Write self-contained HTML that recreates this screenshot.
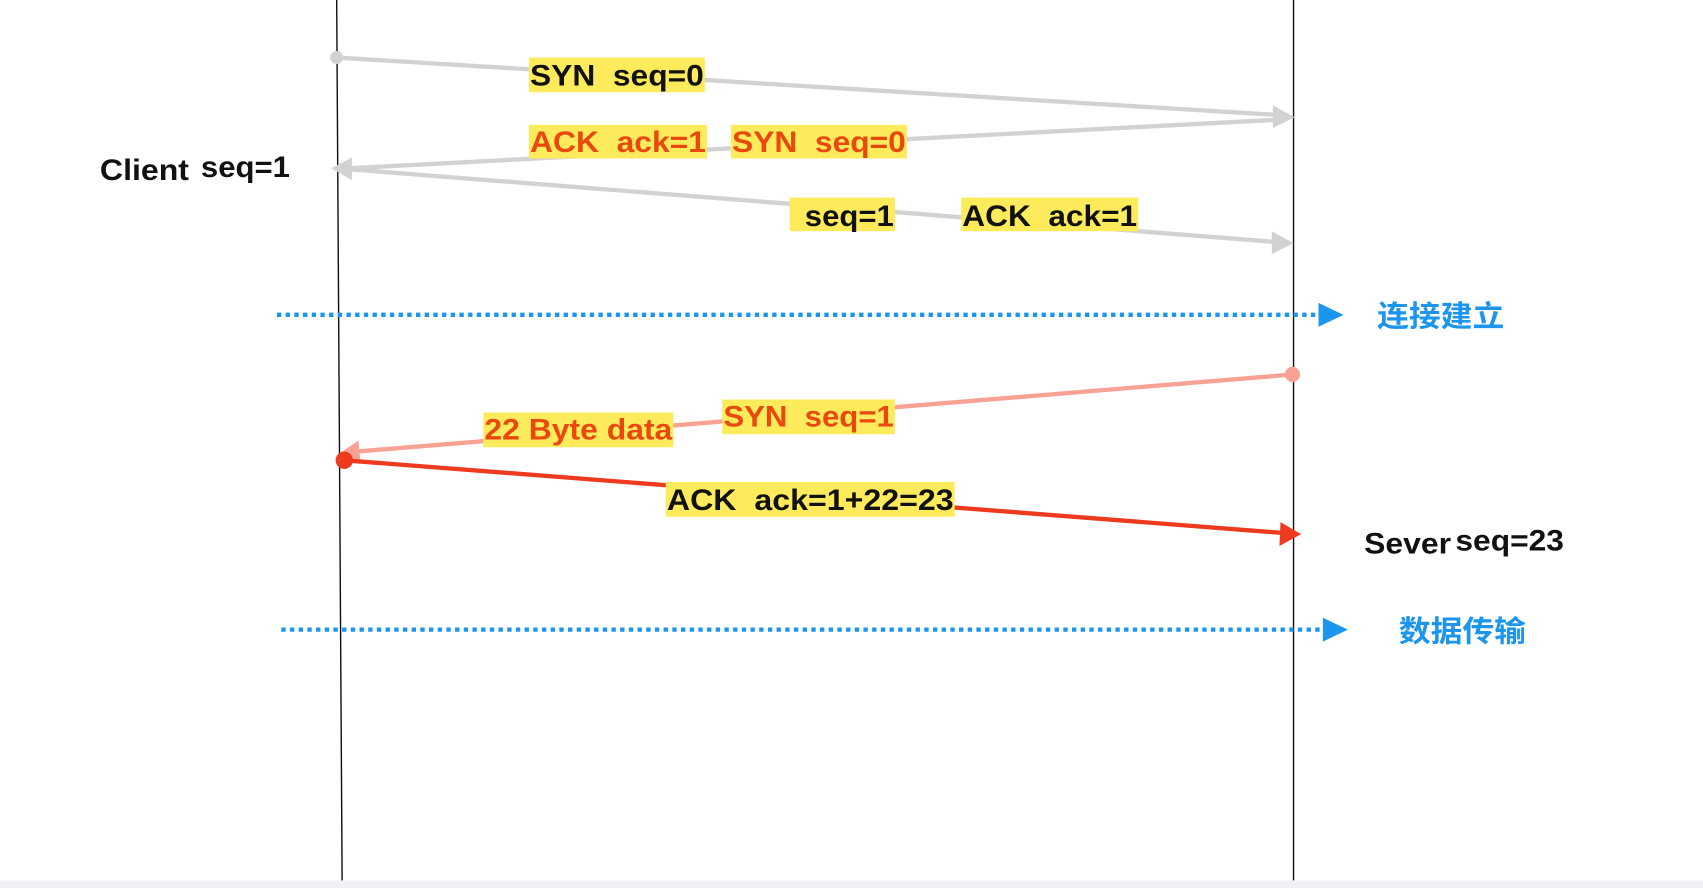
<!DOCTYPE html>
<html><head><meta charset="utf-8"><style>
html,body{margin:0;padding:0;background:#fff;width:1703px;height:888px;overflow:hidden}
svg{display:block}
text{font-family:"Liberation Sans","Noto Sans CJK SC",sans-serif;font-weight:bold;font-size:27px}
</style></head><body>
<svg width="1703" height="888" viewBox="0 0 1568 818" preserveAspectRatio="none">
<rect x="0" y="811" width="1568" height="7" fill="#f1f2f5"/>
<line x1="310" y1="0" x2="315" y2="811" stroke="#111" stroke-width="1.3"/>
<line x1="1191" y1="0" x2="1191" y2="811" stroke="#111" stroke-width="1.3"/>
<line x1="310" y1="53" x2="1178" y2="106" stroke="#d2d2d2" stroke-width="4"/>
<circle cx="310" cy="53" r="6" fill="#d2d2d2"/>
<polygon points="1192,108 1172,97 1172,118" fill="#d2d2d2"/>
<line x1="1182" y1="110" x2="322" y2="155" stroke="#d2d2d2" stroke-width="4"/>
<polygon points="305,155 324,145 324,166" fill="#d2d2d2"/>
<line x1="310" y1="155" x2="1176" y2="223" stroke="#d2d2d2" stroke-width="4"/>
<polygon points="1191,224 1171,213 1171,234" fill="#d2d2d2"/>
<rect x="487" y="53" width="162" height="32" fill="#fdeb5c"/>
<text x="488" y="79" fill="#111" textLength="160" lengthAdjust="spacingAndGlyphs">SYN&#160; seq=0</text>
<rect x="487" y="115" width="164" height="31" fill="#fdeb5c"/>
<text x="488" y="140" fill="#e9490f" textLength="162" lengthAdjust="spacingAndGlyphs">ACK&#160; ack=1</text>
<rect x="673" y="115" width="162" height="31" fill="#fdeb5c"/>
<text x="674" y="140" fill="#e9490f" textLength="160" lengthAdjust="spacingAndGlyphs">SYN&#160; seq=0</text>
<rect x="727" y="182" width="97" height="31" fill="#fdeb5c"/>
<text x="741" y="208" fill="#111" textLength="82" lengthAdjust="spacingAndGlyphs">seq=1</text>
<rect x="885" y="182" width="163" height="31" fill="#fdeb5c"/>
<text x="886" y="208" fill="#111" textLength="161" lengthAdjust="spacingAndGlyphs">ACK&#160; ack=1</text>
<text x="92" y="166" fill="#111" font-size="28" textLength="82" lengthAdjust="spacingAndGlyphs">Client</text>
<text x="185" y="163" fill="#111" textLength="82" lengthAdjust="spacingAndGlyphs">seq=1</text>
<line x1="255" y1="290" x2="1215" y2="290" stroke="#1b95ee" stroke-width="4" stroke-dasharray="4,4"/>
<polygon points="1237,290 1214,279 1214,301" fill="#1b95ee"/>
<text x="1268" y="301" fill="#1b95ee" font-size="29" textLength="117" lengthAdjust="spacingAndGlyphs">连接建立</text>
<line x1="1190" y1="345" x2="328" y2="416" stroke="#f8a293" stroke-width="4"/>
<circle cx="1190" cy="345" r="7" fill="#f8a293"/>
<polygon points="312,418 330,406 332,426" fill="#f8a293"/>
<rect x="665" y="368" width="159" height="32" fill="#fdeb5c"/>
<text x="666" y="393" fill="#e9490f" textLength="157" lengthAdjust="spacingAndGlyphs">SYN&#160; seq=1</text>
<rect x="445" y="380" width="175" height="32" fill="#fdeb5c"/>
<text x="446" y="405" fill="#e9490f" textLength="173" lengthAdjust="spacingAndGlyphs">22 Byte data</text>
<line x1="317" y1="424" x2="1182" y2="491" stroke="#ee3a1e" stroke-width="4"/>
<circle cx="317" cy="424" r="8" fill="#ee3a1e"/>
<polygon points="1198,492 1179,481 1178,503" fill="#ee3a1e"/>
<rect x="613" y="444" width="266" height="32" fill="#fdeb5c"/>
<text x="614" y="470" fill="#111" textLength="264" lengthAdjust="spacingAndGlyphs">ACK&#160; ack=1+22=23</text>
<text x="1256" y="510" fill="#111" textLength="80" lengthAdjust="spacingAndGlyphs">Sever</text>
<text x="1340" y="507" fill="#111" textLength="100" lengthAdjust="spacingAndGlyphs">seq=23</text>
<line x1="259" y1="580" x2="1219" y2="580" stroke="#1b95ee" stroke-width="4" stroke-dasharray="4,4"/>
<polygon points="1241,580 1218,569 1218,591" fill="#1b95ee"/>
<text x="1288" y="591" fill="#1b95ee" font-size="29" textLength="117" lengthAdjust="spacingAndGlyphs">数据传输</text>
</svg>
</body></html>
